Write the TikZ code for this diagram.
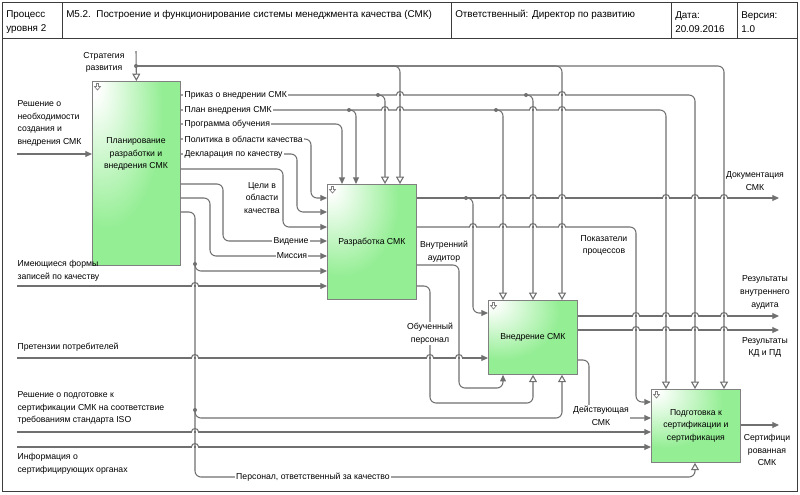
\documentclass[tikz,border=0pt]{standalone}
\usepackage{fontspec}
\setmainfont{Liberation Sans}
\usetikzlibrary{arrows.meta}
\definecolor{boxgreen}{RGB}{148,238,148}
\definecolor{lc}{RGB}{112,112,112}
\definecolor{bc}{RGB}{128,128,128}
\definecolor{fc}{RGB}{60,60,60}
\pgfdeclareradialshading{boxshade}{\pgfpoint{-25bp}{25bp}}{color(0bp)=(white); color(3bp)=(white); color(32bp)=(boxgreen); color(100bp)=(boxgreen)}
\newcommand\lblfont{\fontsize{6.5}{9.5}\selectfont}
\newcommand\hdrfont{\fontsize{7.4}{10.5}\selectfont}
\newcommand\hopx[2]{%
  \fill[white] ({#1-3.3},{#2-1.1}) rectangle ({#1+3.3},{#2+1.1});
  \draw[lc,line width=0.8pt] (#1,{#2-1.3}) -- (#1,{#2+1.3});
  \draw[lc,line width=0.8pt] ({#1-3.6},#2) .. controls ({#1-3.6},{#2-4.6}) and ({#1+3.6},{#2-4.6}) .. ({#1+3.6},#2);
}
\newcommand\boxicon[2]{%
  \draw[bc, line width=0.5pt, line join=miter] ({#1+2},#2) -- ({#1+4},#2) -- ({#1+4},{#2+3}) -- ({#1+6},{#2+3}) -- ({#1+3},{#2+6.5}) -- (#1,{#2+3}) -- ({#1+2},{#2+3}) -- cycle;
}
\tikzset{
  ln/.style={draw=lc, line width=0.8pt, rounded corners=4.5pt},
  fa/.style={-{Triangle[length=5pt,width=4.4pt]}},
  oa/.style={-{Triangle[open,length=5.5pt,width=6pt]}},
  bx/.style 2 args={minimum width=#1*0.75pt, minimum height=#2*0.75pt},
  box/.style={draw=bc, line width=0.6pt, shade, shading=boxshade, anchor=north west, inner sep=0pt, align=center, font=\lblfont},
  lab/.style={font=\lblfont, align=center, inner sep=1pt},
  onl/.style={lab, fill=white},
  hdr/.style={font=\hdrfont, align=left, inner sep=0pt, anchor=west},
  frame/.style={draw=fc, line width=0.7pt}
}
\begin{document}
\begin{tikzpicture}[x=0.75pt,y=-0.75pt]
\useasboundingbox (0,0) rectangle (800,494);
\fill[white] (0,0) rectangle (800,494);

% header and frame
\draw[frame] (2,2) rectangle (797,491);
\draw[frame] (2,38) -- (797,38);
\foreach \x in {62,451,671,737} \draw[frame] (\x,2) -- (\x,38);
\node[hdr] (h1) at (6,22) {Процесс\\уровня 2};
\node[hdr] (h2) at (66,15) {M5.2.\ \ Построение и функционирование системы менеджмента качества (СМК)};
\node[hdr] (h3) at (455,15) {Ответственный: Директор по развитию};
\node[hdr] (h4) at (675,22) {Дата:\\20.09.2016};
\node[hdr] (h5) at (741,22) {Версия:\\1.0};

% boxes
\node[box, bx={88}{184}] (b1) at (92,81) {};
\node[box, bx={89}{115}] (b2) at (327,184) {Разработка СМК};
\node[box, bx={89}{74}] (b3) at (488,300) {Внедрение СМК};
\node[box, bx={89}{73}] (b4) at (651,389) {Подготовка к\\сертификации и\\сертификация};
\node[lab] (b1t) at (136,154) {Планирование\\разработки и\\внедрения СМК};
\boxicon{94.5}{83.5}
\boxicon{329.5}{186.5}
\boxicon{490.5}{302.5}
\boxicon{653.5}{391.5}

% strategy
\draw[ln,oa] (136,51) -- (b1.north);
\draw[ln,oa] (136,66) -| (b2.north -| 400,0);
\draw[ln,oa] (136,66) -| (b3.north -| 562,0);
\draw[ln,oa] (136,66) -| (b4.north -| 724,0);

% input of b1
\draw[ln,fa] (17,154) -- (b1.west |- 0,154);

% outputs of b1
\draw[ln,oa] (b1.east |- 0,95) -| (b4.north -| 695,0);
\draw[ln,oa] (378,95) -| (b2.north -| 385,0);
\draw[ln,oa] (526,95) -| (b3.north -| 533,0);
\draw[ln,oa] (b1.east |- 0,110) -| (b4.north -| 666,0);
\draw[ln,fa] (349,110) -| (b2.north -| 356,0);
\draw[ln,oa] (496,110) -| (b3.north -| 503,0);
\draw[ln,fa] (b1.east |- 0,124) -| (b2.north -| 342,0);
\draw[ln,fa] (b1.east |- 0,139) -| (311,198) -- (b2.west |- 0,198);
\draw[ln,fa] (b1.east |- 0,154) -| (297,212) -- (b2.west |- 0,212);
\draw[ln,fa] (b1.east |- 0,169) -| (283,227) -- (b2.west |- 0,227);
\draw[ln,fa] (b1.east |- 0,184) -| (223,241) -- (b2.west |- 0,241);
\draw[ln,fa] (b1.east |- 0,198) -| (210,256) -- (b2.west |- 0,256);
\draw[ln,oa] (b1.east |- 0,212) -| (195,477) -| (b4.south -| 695,0);
\draw[ln,fa] (195,264) |- (b2.west |- 0,271);
\draw[ln,oa] (195,410) |- (562,418) -- (b3.south -| 562,0);

% left inputs
\draw[ln,fa] (17,286) -- (b2.west |- 0,286);
\draw[ln,fa] (17,358) -- (b3.west |- 0,358);
\draw[ln,fa] (17,432) -- (b4.west |- 0,432);
\draw[ln,fa] (17,447) -- (b4.west |- 0,447);

% outputs of b2
\draw[ln,fa] (b2.east |- 0,198) -- (779,198);
\draw[ln,fa] (466,198) -| (473,313) -- (b3.west |- 0,313);
\draw[ln,fa] (b2.east |- 0,227) -| (636,402) -- (b4.west |- 0,402);
\draw[ln,fa] (b2.east |- 0,265) -| (459,388) -| (b3.south -| 503,0);
\draw[ln,oa] (b2.east |- 0,286) -| (430,403) -| (b3.south -| 533,0);

% outputs of b3
\draw[ln,fa] (b3.east |- 0,316) -- (779,316);
\draw[ln,fa] (b3.east |- 0,330) -- (779,330);
\draw[ln,fa] (b3.east |- 0,360) -| (589,418) -- (b4.west |- 0,418);

% output of b4
\draw[ln,fa] (b4.east |- 0,425) -- (779,425);

% hops
\foreach \x in {400,562} {\hopx{\x}{95}}
\foreach \x in {385,400,533,562} {\hopx{\x}{110}}
\foreach \x in {503,533,562,666,695,724} {\hopx{\x}{198}}
\foreach \x in {473,503,533,562} {\hopx{\x}{227}}
\hopx{195}{286}
\foreach \x in {636,666,695,724} {\hopx{\x}{316}}
\foreach \x in {636,666,695,724} {\hopx{\x}{330}}
\foreach \x in {195,430,459} {\hopx{\x}{358}}
\hopx{195}{432}
\hopx{195}{447}

% branch dots
\foreach \p in {(136,66),(378,95),(526,95),(349,110),(496,110),(195,264),(195,410),(466,198)}
  \fill[lc] \p circle[radius=1.5pt];

% labels on lines
\node[onl, anchor=west] (l1) at (183,95) {Приказ о внедрении СМК};
\node[onl, anchor=west] (l2) at (183,110) {План внедрения СМК};
\node[onl, anchor=west] (l3) at (183,124) {Программа обучения};
\node[onl, anchor=west] (l4) at (183,139) {Политика в области качества};
\node[onl, anchor=west] (l5) at (183,154) {Декларация по качеству};
\node[onl] (l6) at (291,241) {Видение};
\node[onl] (l7) at (292,256) {Миссия};
\node[onl] (l8) at (313,477) {Персонал, ответственный за качество};
\node[onl] (l9) at (430,333.5) {Обученный\\персонал};
\node[onl] (l10) at (601,415.5) {Действующая\\СМК};

% free labels
\node[lab] (t1) at (104,62.5) {Стратегия\\развития};
\node[lab, align=left, anchor=west] (t2) at (16,123.5) {Решение о\\необходимости\\создания и\\внедрения СМК};
\node[lab] (t3) at (262,198) {Цели в\\области\\качества};
\node[lab, align=left, anchor=west] (t4) at (16,271) {Имеющиеся формы\\записей по качеству};
\node[lab, align=left, anchor=west] (t5) at (16,347) {Претензии потребителей};
\node[lab, align=left, anchor=west] (t6) at (16,408) {Решение о подготовке к\\сертификации СМК на соответствие\\требованиям стандарта ISO};
\node[lab, align=left, anchor=west] (t7) at (16,463.5) {Информация о\\сертифицирующих органах};
\node[lab] (t8) at (444,251.5) {Внутренний\\аудитор};
\node[lab] (t9) at (604,245.5) {Показатели\\процессов};
\node[lab] (t10) at (755,181) {Документация\\СМК};
\node[lab] (t11) at (765,292.5) {Результаты\\внутреннего\\аудита};
\node[lab] (t12) at (765,347.5) {Результаты\\КД и ПД};
\node[lab] (t13) at (767,450) {Сертифици\\рованная\\СМК};
\end{tikzpicture}
\end{document}
